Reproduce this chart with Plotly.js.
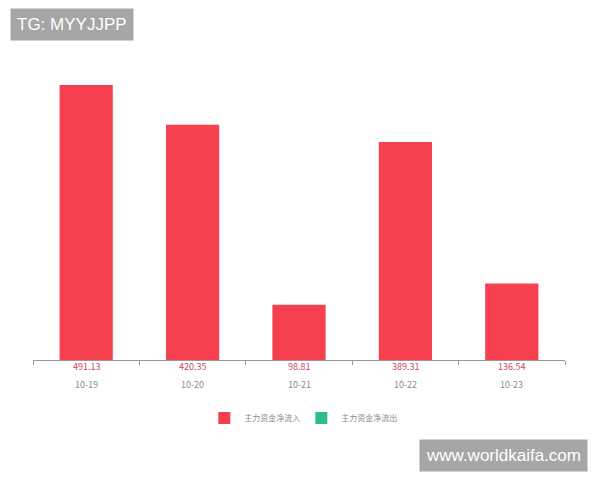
<!DOCTYPE html>
<html><head><meta charset="utf-8">
<script src="https://cdn.plot.ly/plotly-3.0.1.min.js"></script>
<style>html,body{margin:0;padding:0;background:#fff}</style>
</head><body>
<div id="chart" style="width:600px;height:480px"></div>
<script>
const dates = ['10-19','10-20','10-21','10-22','10-23'];
const inflow = [491.13, 420.35, 98.81, 389.31, 136.54];
const outflow = [null, null, null, null, null];
const seriesNames = ['主力资金净流入','主力资金净流出'];
const colors = ['#f7404f','#2fbd86'];

const cjk = '"Noto Sans CJK SC", "Noto Sans", sans-serif';

const traces = [
  {type:'bar', x:dates, y:inflow, name:seriesNames[0], marker:{color:colors[0]}, hoverinfo:'none'},
  {type:'bar', x:dates, y:outflow, name:seriesNames[1], marker:{color:colors[1]}, hoverinfo:'none'}
];

const annotations = [];
dates.forEach((d,i)=>{
  annotations.push({x:d, xref:'x', y:-0.023, yref:'paper', text:inflow[i].toFixed(2), showarrow:false,
    yanchor:'middle', font:{family:cjk, size:9, color:'#c8485e'}});
  annotations.push({x:d, xref:'x', y:-0.08, yref:'paper', text:d, showarrow:false,
    yanchor:'middle', font:{family:cjk, size:9, color:'#8c8c8c'}});
});
annotations.push({x:-0.043, xref:'paper', xanchor:'left', y:1.117, yref:'paper', yanchor:'middle',
  text:'TG: MYYJJPP', showarrow:false, bgcolor:'#a6a6a6', borderpad:6,
  font:{family:'Helvetica, Arial, "Liberation Sans", sans-serif', size:17, color:'#ffffff'}});
annotations.push({x:0.885, xref:'paper', xanchor:'center', y:-0.317, yref:'paper', yanchor:'middle',
  text:'www.worldkaifa.com', showarrow:false, bgcolor:'#a6a6a6', borderpad:6,
  font:{family:'Helvetica, Arial, "Liberation Sans", sans-serif', size:17, color:'#ffffff'}});

const layout = {
  width:600, height:480,
  margin:{l:33, r:35, t:60, b:120},
  paper_bgcolor:'#ffffff', plot_bgcolor:'#ffffff',
  bargap:0.5, barmode:'overlay',
  xaxis:{type:'category', showticklabels:false, showline:true, linecolor:'#999999', linewidth:1,
    ticks:'outside', tickson:'boundaries', ticklen:4, tickcolor:'#999999', showgrid:false, zeroline:false,
    fixedrange:true},
  yaxis:{range:[0,535.8], visible:false, showgrid:false, zeroline:false},
  showlegend:true,
  legend:{orientation:'h', x:0.322, xanchor:'left', y:-0.193, yanchor:'middle',
    font:{family:cjk, size:8, color:'#8c8c8c'}, itemwidth:30, entrywidth:52},
  annotations:annotations
};
Plotly.newPlot('chart', traces, layout, {displayModeBar:false, staticPlot:true});
</script>
</body></html>
